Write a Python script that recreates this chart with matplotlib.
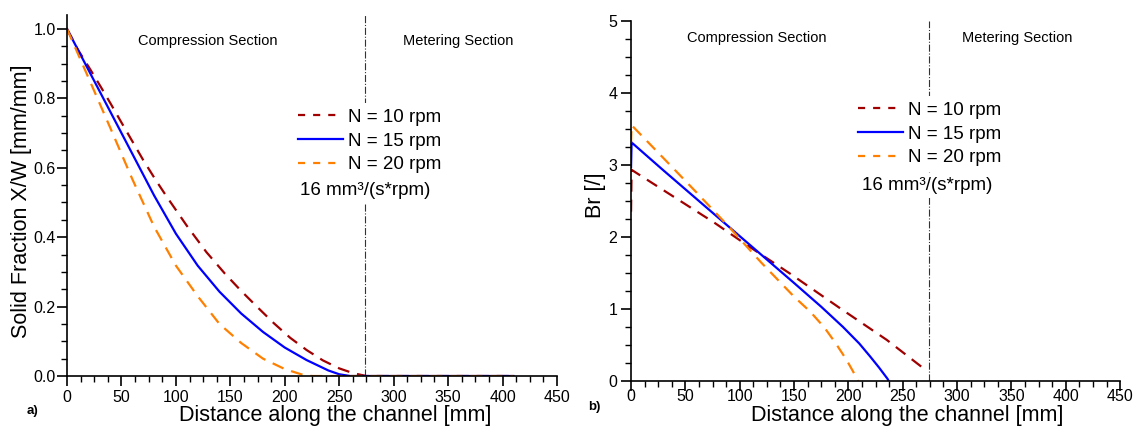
import matplotlib
matplotlib.use("Agg")
import matplotlib.pyplot as plt
from matplotlib.ticker import MultipleLocator, FormatStrFormatter
from matplotlib.lines import Line2D

plt.rcParams['font.family'] = ['Liberation Sans', 'DejaVu Sans']

# ---------------- data: panel a) solid fraction ----------------
x_a_10 = [0, 10, 21, 31, 40, 49.5, 58, 70, 82, 91.5, 110, 128, 145, 160, 175, 190, 205, 220, 235, 250, 263, 275, 410]
y_a_10 = [1.0, 0.94, 0.885, 0.833, 0.785, 0.733, 0.687, 0.622, 0.562, 0.517, 0.433, 0.357, 0.295, 0.245,
          0.198, 0.152, 0.11, 0.075, 0.045, 0.022, 0.008, 0.0, 0.0]

x_a_15 = [0, 20, 40, 60, 80, 100, 120, 140, 160, 180, 200, 220, 240, 250, 260, 410]
y_a_15 = [1.0, 0.88, 0.76, 0.64, 0.52, 0.41, 0.318, 0.243, 0.18, 0.127, 0.082, 0.046, 0.016, 0.005, 0.0, 0.0]

x_a_20 = [0, 20, 40, 60, 80, 100, 120, 140, 160, 180, 200, 215, 225, 410]
y_a_20 = [1.0, 0.857, 0.713, 0.567, 0.43, 0.318, 0.23, 0.15, 0.095, 0.05, 0.02, 0.005, 0.0, 0.0]

# ---------------- data: panel b) Brinkman number ----------------
x_b_10 = [0, 0.5, 77.3, 106.5, 146.3, 192.3, 235.3, 267]
y_b_10 = [2.35, 2.93, 2.19, 1.887, 1.49, 1.01, 0.57, 0.2]

x_b_15 = [0, 0.5, 30, 60, 90, 120, 150, 175, 195, 210, 220, 228, 233, 236, 237]
y_b_15 = [2.97, 3.31, 2.92, 2.53, 2.14, 1.75, 1.36, 1.03, 0.75, 0.52, 0.34, 0.19, 0.09, 0.03, 0.0]

x_b_20 = [0, 0.5, 30, 60, 90, 120, 150, 165, 178, 188, 198, 204, 209]
y_b_20 = [3.3, 3.55, 3.09, 2.62, 2.14, 1.64, 1.17, 0.96, 0.74, 0.53, 0.3, 0.14, 0.0]

labels = ['N = 10 rpm', 'N = 15 rpm', 'N = 20 rpm']
section_boundary = 274
throughput_text = '16 mm³/(s*rpm)'

c10, c15, c20 = '#a00000', '#0000ff', '#ff8000'
LW = 1.6
dash_plot = (0, (5.4, 3.6))
dash_leg = (0, (3.2, 3.6))

fig = plt.figure(figsize=(11.36, 4.32), dpi=100)
ax1 = fig.add_axes([0.0590, 0.1296, 0.4313, 0.8356])
ax2 = fig.add_axes([0.5555, 0.1181, 0.4305, 0.8340])


def style(ax, xpad, ypad):
    for s in ['top', 'right']:
        ax.spines[s].set_visible(False)
    for s in ['left', 'bottom']:
        ax.spines[s].set_linewidth(1.2)
    ax.tick_params(which='major', direction='out', length=7, width=1.2, labelsize=11.5)
    ax.tick_params(which='minor', direction='out', length=4, width=1.0)
    ax.tick_params(axis='y', which='major', pad=ypad)
    ax.tick_params(axis='x', which='major', pad=xpad)
    ax.set_xlim(0, 450)
    ax.xaxis.set_major_locator(MultipleLocator(50))
    ax.xaxis.set_minor_locator(MultipleLocator(12.5))
    ax.set_xlabel('Distance along the channel [mm]', fontsize=15.5)


def proxies():
    return [Line2D([], [], color=c10, lw=LW, linestyle=dash_leg),
            Line2D([], [], color=c15, lw=LW),
            Line2D([], [], color=c20, lw=LW, linestyle=dash_leg)]


leg_kw = dict(loc='upper left', fontsize=13.5, frameon=True, fancybox=False, edgecolor='none',
              facecolor='white', framealpha=1, handlelength=2.4, handletextpad=0.27,
              labelspacing=0.35, borderpad=0.3, borderaxespad=0)

# panel a
ax1.plot(x_a_10, y_a_10, color=c10, lw=LW, linestyle=dash_plot)
ax1.plot(x_a_15, y_a_15, color=c15, lw=LW)
ax1.plot(x_a_20, y_a_20, color=c20, lw=LW, linestyle=dash_plot)
ax1.axvline(section_boundary, color='#333333', lw=0.8, linestyle='-.', zorder=0)
style(ax1, xpad=3, ypad=1)
ax1.set_ylim(0, 1.04)
ax1.yaxis.set_major_locator(MultipleLocator(0.2))
ax1.yaxis.set_minor_locator(MultipleLocator(0.05))
ax1.yaxis.set_major_formatter(FormatStrFormatter('%.1f'))
ax1.set_ylabel('Solid Fraction X/W [mm/mm]', fontsize=15.5)
ax1.yaxis.set_label_coords(-0.071, 0.483)
ax1.xaxis.set_label_coords(0.547, -0.080)
ax1.text(129, 0.965, 'Compression Section', ha='center', va='center', fontsize=10.5)
ax1.text(359, 0.965, 'Metering Section', ha='center', va='center', fontsize=10.5)
ax1.legend(proxies(), labels, bbox_to_anchor=(0.46, 0.756), **leg_kw)
ax1.text(0.475, 0.5145, throughput_text, transform=ax1.transAxes, fontsize=13.5, ha='left', va='center',
         bbox=dict(facecolor='white', edgecolor='none', pad=3))
fig.text(0.0235, 0.049, 'a)', fontsize=9.5, fontweight='bold', ha='left', va='center')

# panel b
ax2.plot(x_b_10, y_b_10, color=c10, lw=LW, linestyle=dash_plot)
ax2.plot(x_b_15, y_b_15, color=c15, lw=LW)
ax2.plot(x_b_20, y_b_20, color=c20, lw=LW, linestyle=dash_plot)
ax2.axvline(section_boundary, color='#333333', lw=0.8, linestyle='-.', zorder=0)
style(ax2, xpad=-1.0, ypad=3)
ax2.set_ylim(0, 5)
ax2.yaxis.set_major_locator(MultipleLocator(1))
ax2.yaxis.set_minor_locator(MultipleLocator(0.25))
ax2.set_ylabel('Br [/]', fontsize=15.5)
ax2.yaxis.set_label_coords(-0.051, 0.516)
ax2.xaxis.set_label_coords(0.565, -0.066)
ax2.text(116, 4.76, 'Compression Section', ha='center', va='center', fontsize=10.5)
ax2.text(355, 4.76, 'Metering Section', ha='center', va='center', fontsize=10.5)
ax2.legend(proxies(), labels, bbox_to_anchor=(0.4528, 0.7907), **leg_kw)
ax2.text(0.472, 0.5425, throughput_text, transform=ax2.transAxes, fontsize=13.5, ha='left', va='center',
         bbox=dict(facecolor='white', edgecolor='none', pad=3))
fig.text(0.518, 0.057, 'b)', fontsize=9.5, fontweight='bold', ha='left', va='center')

fig.savefig('out.png', dpi=100)
